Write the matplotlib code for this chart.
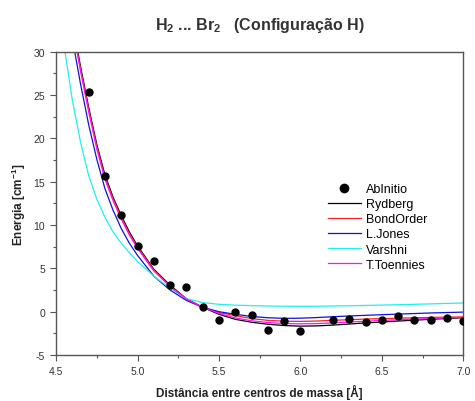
import numpy as np
import matplotlib
matplotlib.use("Agg")
import matplotlib.pyplot as plt
from matplotlib.ticker import MultipleLocator

# =========================================
# DATA
# =========================================

r_abinitio = [4.7, 4.8, 4.9, 5.0, 5.1, 5.2, 5.3, 5.4, 5.5, 5.6, 5.7, 5.8,
              5.9, 6.0, 6.2, 6.3, 6.4, 6.5, 6.6, 6.7, 6.8, 6.9, 7.0]
e_abinitio = [25.4, 15.6, 11.2, 7.55, 5.8, 3.1, 2.8, 0.5, -0.96, -0.07, -0.38, -2.1,
              -1.1, -2.2, -1.0, -0.82, -1.2, -0.95, -0.53, -0.95, -0.95, -0.73, -1.08]

r_fit = [4.60, 4.65, 4.70, 4.75, 4.80, 4.85, 4.90, 4.95, 5.00, 5.10, 5.20, 5.30, 5.40,
         5.50, 5.60, 5.70, 5.80, 5.90, 6.00, 6.10, 6.20, 6.40, 6.60, 6.80, 7.00]

e_rydberg = [33.5, 28.3, 23.6, 19.3, 15.8, 13.2, 11.1, 9.2, 7.6, 4.9, 3.05, 1.5, 0.5,
             -0.3, -0.88, -1.22, -1.45, -1.6, -1.67, -1.64, -1.55, -1.3, -1.08, -0.88, -0.7]
e_bondorder = [33.2, 28.0, 23.35, 19.05, 15.55, 13.0, 10.9, 9.0, 7.45, 4.8, 2.95, 1.45, 0.5,
               -0.1, -0.45, -0.8, -1.0, -1.1, -1.12, -1.08, -1.0, -0.85, -0.75, -0.66, -0.6]
e_ljones = [31.5, 26.3, 21.6, 17.6, 14.2, 11.7, 9.6, 7.9, 6.5, 4.1, 2.5, 1.3, 0.5,
            0.0, -0.3, -0.55, -0.7, -0.77, -0.75, -0.68, -0.58, -0.42, -0.28, -0.15, -0.05]
e_varshni = [24.4, 19.6, 15.7, 13.0, 10.9, 9.2, 7.9, 6.8, 5.8, 4.1, 2.7, 1.5, 1.05,
             0.85, 0.75, 0.7, 0.65, 0.63, 0.62, 0.63, 0.65, 0.72, 0.8, 0.9, 1.0]
e_toennies = [33.0, 27.8, 23.1, 18.8, 15.3, 12.8, 10.7, 8.85, 7.3, 4.7, 2.9, 1.45, 0.5,
              -0.2, -0.72, -1.05, -1.25, -1.37, -1.4, -1.38, -1.3, -1.1, -0.93, -0.78, -0.65]

r_varshni_top = [4.55]
e_varshni_top = [30.6]

# =========================================
# STYLE
# =========================================

plt.rcParams['font.family'] = ['Liberation Sans', 'DejaVu Sans']
plt.rcParams['mathtext.fontset'] = 'custom'
plt.rcParams['mathtext.rm'] = 'Liberation Sans'
plt.rcParams['mathtext.bf'] = 'Liberation Sans:bold'
plt.rcParams['mathtext.default'] = 'regular'
plt.rcParams['axes.unicode_minus'] = False

grey = '#555555'

fig = plt.figure(figsize=(4.75, 4.02), dpi=100)
ax = fig.add_axes([0.118, 0.1144, 0.8574, 0.7546])

# =========================================
# PLOT
# =========================================

ax.plot(r_abinitio, e_abinitio, 'o', color='black', ms=5, label='AbInitio', zorder=5)
ax.plot(r_fit, e_rydberg, color='black', lw=0.9, label='Rydberg')
ax.plot(r_fit, e_bondorder, color='#ff2020', lw=0.9, label='BondOrder')
ax.plot(r_fit, e_ljones, color='#1010e0', lw=0.9, label='L.Jones')
ax.plot(r_varshni_top + r_fit, e_varshni_top + e_varshni, color='#20f0f0', lw=0.9, label='Varshni')
ax.plot(r_fit, e_toennies, color='#ff10ff', lw=0.9, label='T.Toennies')

ax.set_xlim(4.5, 7.0)
ax.set_ylim(-5, 30)
ax.xaxis.set_major_locator(MultipleLocator(0.5))
ax.xaxis.set_minor_locator(MultipleLocator(0.25))
ax.yaxis.set_major_locator(MultipleLocator(5))
ax.yaxis.set_minor_locator(MultipleLocator(2.5))
ax.xaxis.set_major_formatter(matplotlib.ticker.FormatStrFormatter('%.1f'))

ax.tick_params(which='both', direction='out', colors=grey, labelcolor='#333333',
               labelsize=7.5, width=0.8)
ax.tick_params(which='major', length=4.5)
ax.tick_params(which='minor', length=2.5)
for s in ax.spines.values():
    s.set_color(grey)
    s.set_linewidth(1.0)

ax.set_xlabel('Distância entre centros de massa [Å]', fontsize=8.5,
              fontweight='bold', color='#222222', labelpad=6)
ax.set_ylabel(r'Energia [cm$^{\mathbf{-1}}$]', fontsize=8.5,
              fontweight='bold', color='#222222', labelpad=4)

fig.text(0.547, 0.937, r'H$_{\mathbf{2}}$ ... Br$_{\mathbf{2}}$   (Configuração H)',
         ha='center', va='center', fontsize=11.5, fontweight='bold', color='#333333')

ax.legend(loc='upper left', bbox_to_anchor=(0.668, 0.567), frameon=False,
          fontsize=9, labelspacing=0.25, handlelength=2.6, handletextpad=0.4,
          borderpad=0, borderaxespad=0, numpoints=1, markerscale=1.2)

fig.savefig('out.png', dpi=100)
